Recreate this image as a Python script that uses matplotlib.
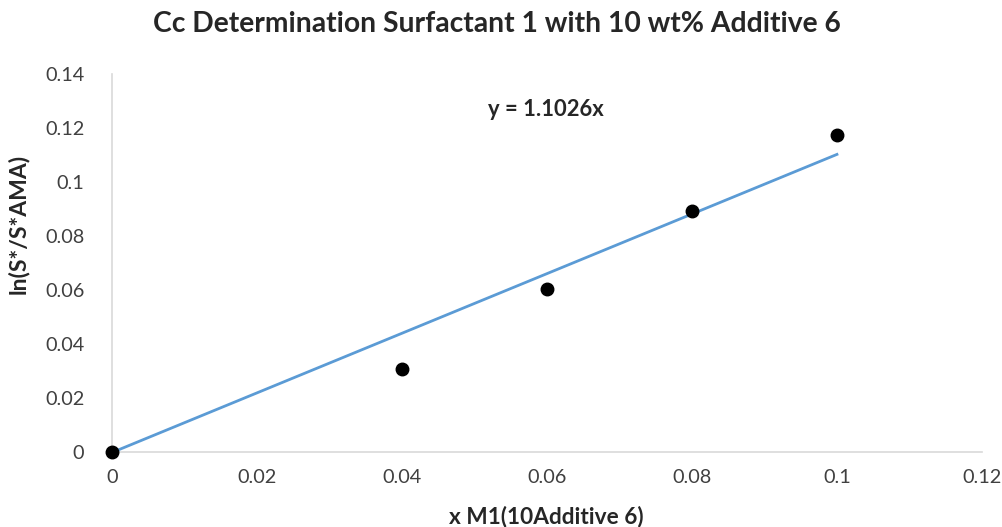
import matplotlib.pyplot as plt
import numpy as np

# data
x_vals = [0.0, 0.04, 0.06, 0.08, 0.10]
y_vals = [0.0, 0.0307, 0.0606, 0.0895, 0.1175]
slope = 1.1026
x_fit = [0.0, 0.10]
x_ticks = [0, 0.02, 0.04, 0.06, 0.08, 0.1, 0.12]
y_ticks = [0, 0.02, 0.04, 0.06, 0.08, 0.1, 0.12, 0.14]

plt.rcParams['font.family'] = ['Lato', 'DejaVu Sans']

fig = plt.figure(figsize=(10.03, 5.27), dpi=100)
ax = fig.add_axes([0.1117, 0.1414, 0.8673, 0.7182])

# trendline then points
ax.plot(x_fit, [slope * v for v in x_fit], color='#5B9BD5', linewidth=2.0, zorder=2)
ax.plot(x_vals, y_vals, 'o', color='black', markersize=9, zorder=3, clip_on=False)

ax.set_xlim(0, 0.12)
ax.set_ylim(0, 0.14)
ax.set_xticks(x_ticks)
ax.set_yticks(y_ticks)
ax.set_xticklabels([f"{t:g}" for t in x_ticks])
ax.set_yticklabels([f"{t:g}" for t in y_ticks])
ax.tick_params(length=0, labelsize=14.3, colors='#404040')
ax.tick_params(axis='y', pad=20)
ax.tick_params(axis='x', pad=12)

for s in ['top', 'right']:
    ax.spines[s].set_visible(False)
for s in ['left', 'bottom']:
    ax.spines[s].set_color('#D9D9D9')
    ax.spines[s].set_linewidth(1.2)

fig.text(0.495, 0.955, "Cc Determination Surfactant 1 with 10 wt% Additive 6",
         ha='center', va='center', fontsize=20.3, fontweight='bold', color='#262626')
ax.set_ylabel("ln(S*/S*AMA)", fontsize=16.5, fontweight='bold', color='#262626')
ax.yaxis.set_label_coords(-0.096, 0.604)
fig.text(0.545, 0.02, "x M1(10Additive 6)", ha='center', va='center',
         fontsize=16.3, fontweight='bold', color='#262626')
ax.text(0.0598, 0.127, "y = 1.1026x", ha='center', va='center',
        fontsize=15.8, fontweight='bold', color='#262626')

fig.savefig("out.png", dpi=100)
